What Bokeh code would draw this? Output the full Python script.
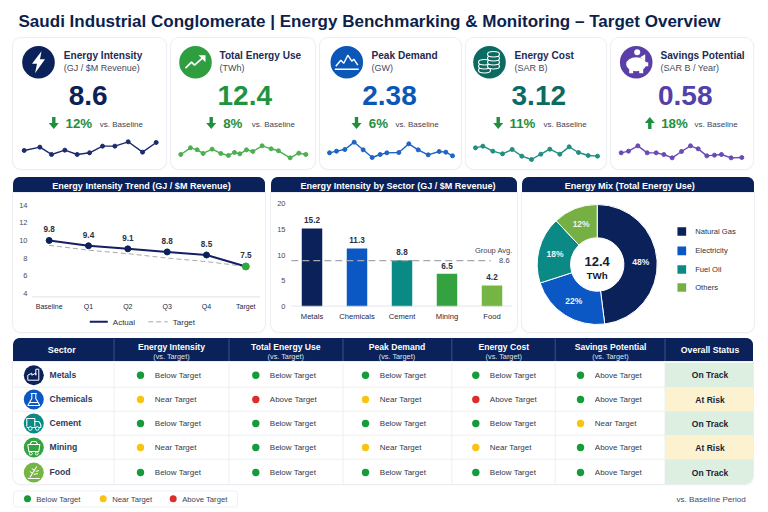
import math
import numpy as np
from bokeh.core.properties import value
from bokeh.embed import file_html
from bokeh.layouts import column, row
from bokeh.models import (ColumnDataSource, FactorRange, FixedTicker, Range1d)
from bokeh.plotting import figure
from bokeh.resources import INLINE

# ---------------- data ----------------
title_text = "Saudi Industrial Conglomerate | Energy Benchmarking & Monitoring \u2013 Target Overview"
kpi_names = ["Energy Intensity", "Total Energy Use", "Peak Demand", "Energy Cost", "Savings Potential"]
kpi_units = ["(GJ / $M Revenue)", "(TWh)", "(GW)", "(SAR B)", "(SAR B / Year)"]
kpi_values = ["8.6", "12.4", "2.38", "3.12", "0.58"]
kpi_deltas = ["12%", "8%", "6%", "11%", "18%"]
kpi_up = [False, False, False, False, True]

spark1_t = [0, 47, 82, 122, 159, 196, 235, 272, 312, 355, 396]
spark1_v = [25, 35, 13, 26, 13, 18, 38, 38, 51, 20, 49]
spark2_t = [0, 29, 49, 67, 94, 120, 143, 161, 177, 197, 216, 244, 271, 293, 328, 354, 375]
spark2_v = [13, 33, 27, 16, 29, 16, 10, 19, 15, 27, 22, 39, 30, 24, 3, 17, 13]
spark3_t = [0, 21, 46, 74, 101, 128, 152, 172, 208, 238, 266, 296, 329, 349, 369]
spark3_v = [23, 28, 33, 55, 32, 9, 18, 23, 24, 50, 32, 17, 27, 25, 14]
spark4_t = [0, 22, 52, 81, 110, 139, 168, 196, 223, 253, 281, 309, 338, 366]
spark4_v = [38, 43, 28, 20, 33, 13, 3, 19, 34, 19, 41, 24, 15, 13]
spark5_t = [0, 22, 50, 78, 105, 128, 153, 181, 208, 231, 257, 280, 301, 330, 362]
spark5_v = [23, 28, 44, 23, 23, 18, 8, 27, 44, 35, 14, 16, 18, 8, 9]

trend_periods = ["Baseline", "Q1", "Q2", "Q3", "Q4", "Target"]
trend_actual = [10.0, 9.4, 9.05, 8.7, 8.35, 7.05]
trend_target = [9.45, 8.9, 8.5, 8.0, 7.6, 7.05]
trend_labels = ["9.8", "9.4", "9.1", "8.8", "8.5", "7.5"]
trend_ticks = [4, 6, 8, 10, 12, 14]

sector_names = ["Metals", "Chemicals", "Cement", "Mining", "Food"]
sector_bars = [15.2, 11.3, 9.0, 6.4, 4.1]
sector_labels = ["15.2", "11.3", "8.8", "6.5", "4.2"]
group_avg_level = 8.95
group_avg_label = "8.6"
sector_ticks = [0, 5, 10, 15, 20]

mix_names = ["Natural Gas", "Electricity", "Fuel Oil", "Others"]
mix_shares = [48, 22, 18, 12]

table_columns = ["Energy Intensity", "Total Energy Use", "Peak Demand", "Energy Cost", "Savings Potential"]
status_metals = ["Below Target", "Below Target", "Below Target", "Below Target", "Above Target"]
status_chemicals = ["Near Target", "Above Target", "Near Target", "Above Target", "Above Target"]
status_cement = ["Below Target", "Below Target", "Below Target", "Below Target", "Near Target"]
status_mining = ["Near Target", "Below Target", "Near Target", "Near Target", "Above Target"]
status_food = ["Below Target", "Below Target", "Below Target", "Below Target", "Above Target"]
overall_status = ["On Track", "At Risk", "On Track", "At Risk", "On Track"]

# ---------------- styles ----------------
FONT = "Liberation Sans"
FV = value(FONT)
NAVY = "#0a2259"
TXT = "#2b3245"
GREEN_TXT = "#1f8f3c"
kpi_colors = [NAVY, "#2e9e3f", "#0b57b8", "#0b6b62", "#5b3fa8"]
kpi_num_colors = [NAVY, "#1f9440", "#0b57b8", "#0b6b62", "#5340a8"]
spark_colors = ["#1c2a6e", "#4caf50", "#1f63c4", "#1f8f80", "#6a4bb5"]
bar_colors = [NAVY, "#0b57c4", "#0a8a85", "#34a23f", "#74b544"]
mix_colors = [NAVY, "#0b57c4", "#0b8a85", "#76b043"]
dot_colors = {"Below Target": "#169b3c", "Near Target": "#f7c413", "Above Target": "#e02b2b"}
# for savings, being above target is the good outcome
savings_dot_colors = {"Above Target": "#169b3c", "Near Target": "#f7c413", "Below Target": "#e02b2b"}
status_bg = {"On Track": "#dcefe0", "At Risk": "#fdf2cf"}
CARD = {"background": "white", "border-radius": "8px", "overflow": "hidden",
        "box-shadow": "0 0 0 1px #eceef3, 0 1px 3px rgba(20,30,60,.05)"}
BODY = {"background": "white", "border-radius": "0 0 8px 8px", "overflow": "hidden",
        "box-shadow": "0 0 0 1px #eceef3, 0 1px 3px rgba(20,30,60,.05)"}


def canvas(x0, y0, x1, y1, styles=None, margin=(0, 0, 0, 0), fill=None):
    """A figure whose coordinates equal page pixels, for layout decorations."""
    p = figure(width=x1 - x0, height=y1 - y0, x_range=Range1d(x0, x1), y_range=Range1d(y1, y0),
               x_axis_type=None, y_axis_type=None, toolbar_location=None, output_backend="svg",
               min_border=0, outline_line_color=None, border_fill_color=fill, background_fill_color=fill,
               margin=margin, styles=styles or {}, frame_align=False)
    return p


def T(p, x, y, s, size, color=TXT, bold=False, align="left"):
    p.text(x=[x], y=[y], text=[s], text_font=FV, text_font_size=f"{size}px", text_color=color,
           text_font_style="bold" if bold else "normal", text_align=align, text_baseline="middle")


def poly(p, cx, cy, pts, fill="white", line=None, lw=1):
    p.patch([cx + a for a, b in pts], [cy + b for a, b in pts], fill_color=fill, line_color=line, line_width=lw)


def pline(p, cx, cy, pts, color="white", lw=1.4):
    p.line([cx + a for a, b in pts], [cy + b for a, b in pts], line_color=color, line_width=lw)


# ---------------- title ----------------
title_fig = canvas(0, 0, 768, 38)
T(title_fig, 18, 20.5, title_text, 17.05, color="#0d1f4d", bold=True)

# ---------------- KPI cards ----------------
cards = [(13, 166), (171, 315), (320, 461), (466, 606), (611, 753)]
icon_x = [38, 195, 346.3, 489, 635.7]
label_x = [63.3, 219, 371, 514, 660]
num_x = [87.7, 244.3, 389, 538.3, 684.7]
arrow_x = [53.3, 210.7, 356, 497.7, 649.3]
pct_x = [65, 222.7, 368.3, 509, 660.7]
vs_x = [99.3, 251.3, 395, 543, 694]
spark_t = [spark1_t, spark2_t, spark3_t, spark4_t, spark5_t]
spark_v = [spark1_v, spark2_v, spark3_v, spark4_v, spark5_v]
spark_px = [(23.7, 155.7), (180.3, 305.3), (329, 452), (475, 597), (620.7, 741.3)]
spark_base = [158.3, 158.3, 160, 160, 160]


def draw_icon(p, i, cx, cy):
    col = kpi_colors[i]
    p.circle(x=[cx], y=[cy], radius=16.3, fill_color=col, line_color=None)
    if i == 0:
        poly(p, cx, cy, [(3, -11), (-6.5, 1.5), (-1.5, 1.5), (-3.5, 11), (6.5, -3), (1.5, -3)])
    elif i == 1:
        pline(p, cx, cy, [(-10, 6), (-4, 0), (-1, 3), (8, -5)], lw=1.7)
        poly(p, cx, cy, [(10, -7), (3, -7), (10, 0)])
    elif i == 2:
        pline(p, cx, cy, [(-11, 4), (-6, -2), (-3, 1), (1, -7), (5, -1), (7, -3), (11, 3)], lw=1.4)
        pline(p, cx, cy, [(-12, 7), (12, 7)], lw=1.5)
    elif i == 3:
        for a, b in [(-5, 8), (-5, 4), (-5, 0), (4, 4), (4, 0), (4, -4), (4, -8)]:
            p.ellipse(x=[cx + a], y=[cy + b], width=12, height=5.5, fill_color=col, line_color="white", line_width=1.1)
    else:
        p.ellipse(x=[cx], y=[cy + 2], width=20, height=14, fill_color="white", line_color=None)
        poly(p, cx, cy, [(4, -5), (9, -8), (9, -1)])
        poly(p, cx, cy, [(8, 0), (12, 0), (12, 4), (8, 4)])
        poly(p, cx, cy, [(-7, 6), (-3, 6), (-3, 11), (-7, 11)])
        poly(p, cx, cy, [(3, 6), (7, 6), (7, 11), (3, 11)])
        p.circle(x=[cx + 1], y=[cy - 10], radius=3, fill_color="white", line_color=None)


kpi_figs = []
prev_right = 0
for i, (x0, x1) in enumerate(cards):
    y0, y1 = 38, 169
    p = canvas(x0, y0, x1, y1, styles=CARD, margin=(0, 0, 0, x0 - prev_right))
    prev_right = x1
    draw_icon(p, i, icon_x[i], 61.7)
    T(p, label_x[i], 55, kpi_names[i], 10.1, color="#1f2a55", bold=True)
    T(p, label_x[i], 67.7, kpi_units[i], 9, color="#444b5e")
    T(p, num_x[i], 95.3, kpi_values[i], 28, color=kpi_num_colors[i], bold=True, align="center")
    ax = arrow_x[i]
    if kpi_up[i]:
        poly(p, ax, 122.5, [(0, -6), (5, 0), (1.7, 0), (1.7, 6), (-1.7, 6), (-1.7, 0), (-5, 0)], fill=GREEN_TXT)
    else:
        poly(p, ax, 122.5, [(0, 6), (5, 0), (1.7, 0), (1.7, -6), (-1.7, -6), (-1.7, 0), (-5, 0)], fill=GREEN_TXT)
    T(p, pct_x[i], 123, kpi_deltas[i], 13.3, color=GREEN_TXT, bold=True)
    T(p, vs_x[i], 124.3, "vs. Baseline", 8, color="#3d4454")
    # sparkline on its own scales: 1 index unit = 1/3 px vertically, mapped across the card
    ts, vs = spark_t[i], spark_v[i]
    a, b = spark_px[i]
    k = (ts[-1] - ts[0]) / (b - a)
    p.extra_x_ranges["t"] = Range1d(ts[0] - (a - x0) * k, ts[-1] + (x1 - b) * k)
    base = spark_base[i]
    p.extra_y_ranges["v"] = Range1d((base - y1) * 3, (base - y0) * 3)
    src = ColumnDataSource(dict(t=ts, v=vs))
    p.line("t", "v", source=src, x_range_name="t", y_range_name="v", line_color=spark_colors[i], line_width=1.4)
    p.scatter("t", "v", source=src, x_range_name="t", y_range_name="v", size=4, marker="circle",
              fill_color=spark_colors[i], line_color=spark_colors[i])
    kpi_figs.append(p)


# ---------------- chart headers ----------------
def header(x0, x1, text, tx, ml):
    h = canvas(x0, 177, x1, 193, fill=NAVY,
               styles={"background": NAVY, "border-radius": "7px 7px 0 0", "overflow": "hidden"},
               margin=(0, 0, 0, ml))
    T(h, tx, 185.3, text, 9.05, color="white", bold=True)
    return h


def chart_body(x0, x1, height, factors, yr, ml, mleft, mright, mbottom, ticks, xsize, ystand, xstand, styles):
    p = figure(width=x1 - x0, height=height, x_range=FactorRange(factors=factors, range_padding=0),
               y_range=Range1d(*yr), toolbar_location=None, output_backend="svg",
               min_border_left=mleft, min_border_right=mright, min_border_top=0, min_border_bottom=mbottom,
               outline_line_color=None, border_fill_color=None, background_fill_color=None,
               margin=(0, 0, 0, ml), styles=styles, frame_align=False)
    p.grid.visible = False
    p.xaxis.axis_line_color = None
    p.xaxis.major_tick_line_color = None
    p.xaxis.minor_tick_line_color = None
    p.xaxis.major_tick_in = 0
    p.xaxis.major_tick_out = 0
    p.xaxis.major_label_standoff = xstand
    p.xaxis.major_label_text_font = FONT
    p.xaxis.major_label_text_font_size = f"{xsize}px"
    p.xaxis.major_label_text_color = "#1f2640"
    p.xaxis.major_label_text_font_style = "normal"
    p.yaxis.axis_line_color = None
    p.yaxis.major_tick_line_color = None
    p.yaxis.minor_tick_line_color = None
    p.yaxis.major_tick_in = 0
    p.yaxis.major_tick_out = 0
    p.yaxis.major_label_text_font = FONT
    p.yaxis.major_label_text_font_size = "7.5px"
    p.yaxis.major_label_text_color = "#444b5e"
    p.yaxis.major_label_standoff = ystand
    p.yaxis.ticker = FixedTicker(ticks=ticks)
    return p


# ---------------- trend chart ----------------
trend_y = (4 - (299 - 294.7) / 8.97, 14 + (205 - 193) / 8.97)
trend = chart_body(13, 265, 119, trend_periods, trend_y, 0, 16, 0, 13, trend_ticks, 7, 2, 5, {})
trend.line(x=[(trend_periods[0], -0.43), (trend_periods[-1], 0.36)], y=[trend_y[0] + 0.05] * 2,
           line_color="#d3d6dc", line_width=1)
tsrc = ColumnDataSource(dict(x=trend_periods, a=trend_actual, t=trend_target, lab=trend_labels))
t_line = trend.line("x", "t", source=tsrc, line_color="#a9a9a9", line_width=1, line_dash=[5, 3])
a_line = trend.line("x", "a", source=tsrc, line_color="#141f66", line_width=2)
trend.scatter("x", "a", source=ColumnDataSource(dict(x=trend_periods[:-1], a=trend_actual[:-1])), size=6,
              fill_color=NAVY, line_color=NAVY)
trend.scatter("x", "a", source=ColumnDataSource(dict(x=trend_periods[-1:], a=trend_actual[-1:])), size=7,
              fill_color="#2ea83f", line_color="#2ea83f")
trend.text("x", "a", text="lab", source=tsrc, y_offset=-11, text_font=FV, text_font_size="8.2px",
           text_font_style="bold", text_color=TXT, text_align="center", text_baseline="middle")
# legend strip under the plot
trend_key = canvas(13, 312, 265, 332)
trend_key.line([89.3, 107.3], [321.3, 321.3], line_color="#141f66", line_width=2)
T(trend_key, 112.3, 321.5, "Actual", 8)
trend_key.line([147.7, 167.3], [321.3, 321.3], line_color="#a9a9a9", line_width=1, line_dash=[5, 3])
T(trend_key, 172.3, 321.5, "Target", 8)
trend_panel = column(trend, trend_key, width=252, height=139, spacing=0, styles=BODY, margin=(0, 0, 0, 13))

# ---------------- sector bars ----------------
bar_px = 25.7 / 5
sector = chart_body(271, 517, 139, sector_names, (0, 20 + (203.3 - 193) / bar_px), 6, 18, 3, 26, sector_ticks, 7.6, 4, 5, BODY)
bsrc = ColumnDataSource(dict(x=sector_names, v=sector_bars, lab=sector_labels, c=bar_colors))
sector.vbar("x", top="v", bottom=0, width=0.455, source=bsrc, fill_color="c", line_color=None)
sector.line(x=[(sector_names[0], -0.46), (sector_names[-1], 0.45)], y=[0.05, 0.05], line_color="#d3d6dc", line_width=1)
sector.line(x=[(sector_names[0], -0.46), (sector_names[-1], -0.03)], y=[group_avg_level] * 2,
            line_color="#a4a8ae", line_width=1.2, line_dash=[7, 4])
sector.text("x", "v", text="lab", source=bsrc, y_offset=-8, text_font=FV, text_font_size="8.2px",
            text_font_style="bold", text_color=TXT, text_align="center", text_baseline="middle")
sector.text(x=[(sector_names[-1], 0.46)], y=[group_avg_level + 2.0], text=["Group Avg."], text_font=FV, text_font_size="7.5px",
            text_color="#3d4454", text_align="right", text_baseline="middle")
sector.text(x=[(sector_names[-1], 0.39)], y=[group_avg_level + 0.1], text=[group_avg_label], text_font=FV,
            text_font_size="7.5px", text_color="#3d4454", text_align="right", text_baseline="middle")

# ---------------- donut ----------------
cx0, cy0 = 596.7, 264.0
donut = figure(width=232, height=139, x_range=Range1d(522 - cx0, 754 - cx0), y_range=Range1d(cy0 - 332, cy0 - 193),
               x_axis_type=None, y_axis_type=None, toolbar_location=None, output_backend="svg", min_border=0,
               outline_line_color=None, border_fill_color=None, background_fill_color=None,
               margin=(0, 0, 0, 5), styles=BODY, frame_align=False)
fracs = np.array(mix_shares) / sum(mix_shares)
ends = np.pi / 2 - 2 * np.pi * np.cumsum(fracs)
starts = np.concatenate([[np.pi / 2], ends[:-1]])
mids = (starts + ends) / 2
donut.annular_wedge(x=[0] * 4, y=[0] * 4, inner_radius=26.7, outer_radius=60, start_angle=starts, end_angle=ends,
                    direction="clock", fill_color=mix_colors, line_color="white", line_width=1)
donut.text(x=43.6 * np.cos(mids), y=43.6 * np.sin(mids), text=[f"{s}%" for s in mix_shares], text_font=FV,
           text_font_size="8.5px", text_font_style="bold", text_color="#eef3f6", text_align="center", text_baseline="middle")
donut.text(x=[0], y=[cy0 - 260.7], text=["12.4"], text_font=FV, text_font_size="13px", text_font_style="bold",
           text_color="#141c33", text_align="center", text_baseline="middle")
donut.text(x=[0], y=[cy0 - 274.7], text=["TWh"], text_font=FV, text_font_size="9.8px", text_font_style="bold",
           text_color="#141c33", text_align="center", text_baseline="middle")
leg_y = [cy0 - v for v in (231, 250.3, 269, 287)]
donut.rect(x=[681.3 - cx0] * 4, y=leg_y, width=8.7, height=8.7, fill_color=mix_colors, line_color=None)
donut.text(x=[694.7 - cx0] * 4, y=leg_y, text=mix_names, text_font=FV, text_font_size="7.6px", text_color=TXT,
           text_align="left", text_baseline="middle")

# ---------------- table ----------------
edges = [13, 113.5, 228.5, 342.5, 451.3, 554.7, 664.5, 753]
head_cx = [171, 285.3, 396.5, 503.3, 610]
dot_x = [140, 255.3, 365, 475.3, 580]
txt_x = [154.3, 269.3, 379.3, 489.3, 594.3]
row_edges = [362, 386.7, 410.7, 434.7, 458.7, 484]
row_y = [374.7, 399, 423, 447, 472]
table_status = [status_metals, status_chemicals, status_cement, status_mining, status_food]

thead = canvas(13, 338, 753, 362, fill=NAVY,
               styles={"background": NAVY, "border-radius": "7px 7px 0 0", "overflow": "hidden"}, margin=(6, 0, 0, 13))
T(thead, 61.3, 349.5, "Sector", 9, color="white", bold=True, align="center")
for name, c in zip(table_columns, head_cx):
    T(thead, c, 346.5, name, 8.6, color="white", bold=True, align="center")
    T(thead, c, 355.8, "(vs. Target)", 7.3, color="#dfe5f2", align="center")
T(thead, 709.5, 349.8, "Overall Status", 8.7, color="white", bold=True, align="center")
thead.segment(x0=edges[1:-1], y0=[338] * 6, x1=edges[1:-1], y1=[362] * 6, line_color="#3c5286", line_width=1)

tbody = canvas(13, 362, 753, 484, styles=BODY, margin=(0, 0, 0, 13))
tbody.segment(x0=edges[1:-1], y0=[362] * 6, x1=edges[1:-1], y1=[484] * 6, line_color="#eceef2", line_width=1)
tbody.segment(x0=[13] * 4, y0=row_edges[1:-1], x1=[753] * 4, y1=row_edges[1:-1], line_color="#eceef2", line_width=1)
tbody.quad(left=[edges[-2]] * 5, right=[edges[-1]] * 5, top=row_edges[:-1], bottom=row_edges[1:],
           fill_color=[status_bg[s] for s in overall_status], line_color=None)
sector_icon_colors = [NAVY, "#0b57c4", "#0a8a85", "#34a23f", "#74b544"]
for r, (sec, yy) in enumerate(zip(sector_names, row_y)):
    tbody.circle(x=[33.3], y=[yy], radius=10, fill_color=sector_icon_colors[r], line_color=None)
    cx = 33.3
    W = "white"
    if r == 0:
        pline(tbody, cx, yy, [(-6, 5), (-6, 0), (-2, -2), (-2, 0), (2, -2), (2, 0), (2, -6), (5, -6), (5, 5), (-6, 5)], W, 1)
    elif r == 1:
        pline(tbody, cx, yy, [(-2, -6), (-2, -1), (-6, 6), (6, 6), (2, -1), (2, -6)], W, 1.1)
        pline(tbody, cx, yy, [(-3, -6), (3, -6)], W, 1.1)
        pline(tbody, cx, yy, [(-4, 3), (4, 3)], W, 1.1)
    elif r == 2:
        pline(tbody, cx, yy, [(-7, 3), (-7, -5), (1, -5), (1, 3)], W, 1.1)
        pline(tbody, cx, yy, [(1, -2), (5, -2), (7, 1), (7, 4), (-7, 4)], W, 1.1)
        tbody.circle(x=[cx - 3.5, cx + 3.5], y=[yy + 5] * 2, radius=1.8, fill_color=sector_icon_colors[r], line_color=W)
    elif r == 3:
        pline(tbody, cx, yy, [(-6, -3), (6, -3), (5, 4), (-5, 4), (-6, -3)], W, 1.1)
        pline(tbody, cx, yy, [(-4, -3), (-2, -6), (2, -6), (4, -3)], W, 1.1)
        tbody.circle(x=[cx - 3, cx + 3], y=[yy + 6] * 2, radius=1.5, fill_color=sector_icon_colors[r], line_color=W)
    else:
        pline(tbody, cx, yy, [(-6, 6), (6, 6)], W, 1.1)
        pline(tbody, cx, yy, [(-4, 5), (3, -6)], W, 1.1)
        pline(tbody, cx, yy, [(-1, 1), (-4, -1)], W, 1)
        pline(tbody, cx, yy, [(1, -2), (-2, -4)], W, 1)
        pline(tbody, cx, yy, [(0, 2), (4, 1)], W, 1)
        pline(tbody, cx, yy, [(2, -1), (5, -2)], W, 1)
    T(tbody, 49, yy - 0.4, sec, 8.6, color="#2b3a5e", bold=True)
    for j, st in enumerate(table_status[r]):
        col_map = savings_dot_colors if table_columns[j] == "Savings Potential" else dot_colors
        tbody.circle(x=[dot_x[j]], y=[yy], radius=3.7, fill_color=col_map[st], line_color=None)
        T(tbody, txt_x[j], yy + 0.3, st, 8, color="#333a4a")
    T(tbody, 709.5, yy, overall_status[r], 8.5, color="#1c2233", bold=True, align="center")

# ---------------- bottom legend ----------------
foot = canvas(0, 484, 768, 508)
foot.quad(left=[13], right=[237], top=[490.5], bottom=[506.5], fill_color="white", line_color="#eef0f4", line_width=1,
          border_radius=3)
leg_names = ["Below Target", "Near Target", "Above Target"]
for name, dx, tx in zip(leg_names, [27, 102.7, 172.7], [35.7, 111.7, 181.7]):
    foot.circle(x=[dx], y=[498.3], radius=3.5, fill_color=dot_colors[name], line_color=None)
    T(foot, tx, 498.5, name, 7.7, color="#3d4454")
T(foot, 676, 498.7, "vs. Baseline Period", 8.1, color="#444b5e")

layout = column(
    title_fig,
    row(*kpi_figs),
    row(column(header(13, 265, "Energy Intensity Trend (GJ / $M Revenue)", 51.7, 13), trend_panel, margin=(8, 0, 0, 0)),
        column(header(271, 517, "Energy Intensity by Sector (GJ / $M Revenue)", 300, 6), sector, margin=(8, 0, 0, 0)),
        column(header(522, 754, "Energy Mix (Total Energy Use)", 564.3, 5), donut, margin=(8, 0, 0, 0))),
    thead,
    tbody,
    foot,
)
open("out.html", "w").write(file_html(layout, INLINE))
